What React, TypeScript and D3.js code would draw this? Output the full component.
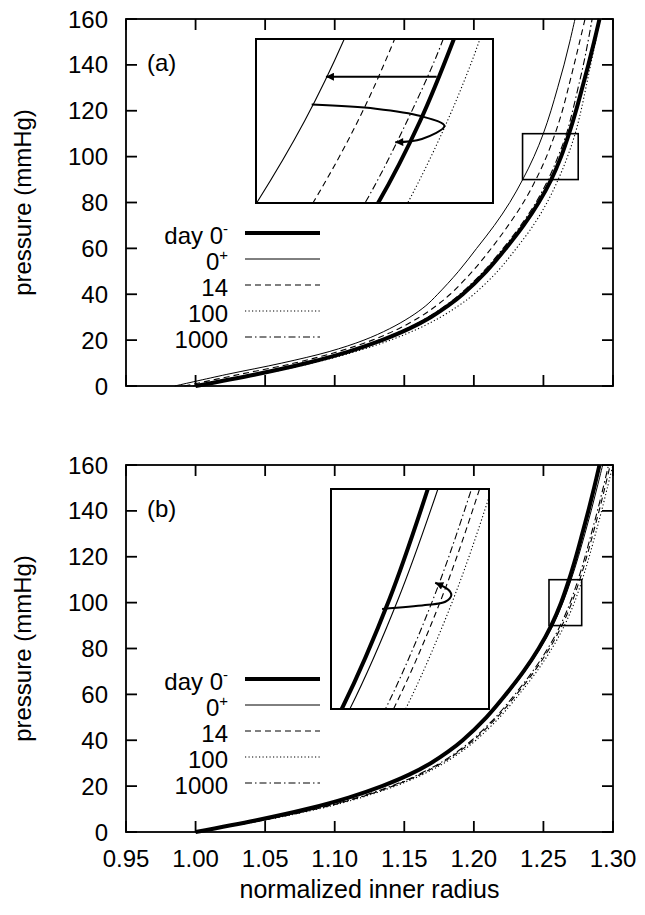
import React from 'react';
import * as d3 from 'd3';

// ---------- data ----------
const PRESSURE = [0, 5, 10, 15, 20, 25, 30, 35, 40, 50, 60, 70, 80, 90, 100, 110, 120, 130, 140, 150, 160];

// day 0- (same baseline in both panels)
const DAY0_MINUS = [1.000, 1.043, 1.080, 1.110, 1.134, 1.1535, 1.169, 1.1815, 1.192, 1.209, 1.223, 1.2357, 1.2466, 1.2556, 1.2627, 1.2684, 1.2734, 1.2779, 1.2823, 1.2864, 1.2903];

// panel (a)
const A_DAY0_PLUS = [0.985, 1.022, 1.062, 1.096, 1.121, 1.1395, 1.154, 1.1655, 1.174, 1.189, 1.202, 1.2147, 1.2258, 1.2351, 1.2432, 1.2499, 1.2554, 1.2602, 1.2648, 1.2689, 1.2727];
const A_DAY14 = [0.992, 1.031, 1.071, 1.1025, 1.127, 1.146, 1.161, 1.173, 1.183, 1.199, 1.2125, 1.2247, 1.2356, 1.2446, 1.2522, 1.2584, 1.2636, 1.2679, 1.2720, 1.2760, 1.2799];
const A_DAY100 = [1.002, 1.046, 1.084, 1.115, 1.140, 1.160, 1.176, 1.189, 1.200, 1.217, 1.2305, 1.2427, 1.2526, 1.2606, 1.2673, 1.2728, 1.2770, 1.2805, 1.2839, 1.2874, 1.2908];
const A_DAY1000 = [0.998, 1.040, 1.078, 1.108, 1.132, 1.1515, 1.167, 1.1795, 1.190, 1.207, 1.221, 1.2337, 1.2446, 1.2534, 1.2605, 1.2666, 1.2710, 1.2749, 1.2787, 1.2820, 1.2850];

// panel (b)
const B_DAY0_PLUS = [1.000, 1.044, 1.081, 1.111, 1.135, 1.1545, 1.170, 1.1825, 1.193, 1.210, 1.224, 1.2367, 1.2476, 1.2568, 1.2640, 1.2699, 1.2751, 1.2798, 1.2843, 1.2885, 1.2926];
const B_DAY14 = [1.000, 1.047, 1.0865, 1.1175, 1.1417, 1.1612, 1.1767, 1.1892, 1.1997, 1.2167, 1.2307, 1.2434, 1.2543, 1.2633, 1.2704, 1.2761, 1.2811, 1.2856, 1.2900, 1.2941, 1.2980];
const B_DAY100 = [1.000, 1.048, 1.088, 1.119, 1.1435, 1.163, 1.1785, 1.191, 1.2015, 1.2185, 1.2325, 1.2452, 1.2561, 1.2651, 1.2722, 1.2779, 1.2829, 1.2874, 1.2918, 1.2959, 1.3000];
const B_DAY1000 = [1.000, 1.0465, 1.0855, 1.1163, 1.1405, 1.160, 1.1755, 1.188, 1.1985, 1.2155, 1.2295, 1.2422, 1.2531, 1.2621, 1.2692, 1.2749, 1.2799, 1.2844, 1.2888, 1.2929, 1.2968];

const X_TICKS = [0.95, 1.00, 1.05, 1.10, 1.15, 1.20, 1.25, 1.30];
const Y_TICKS = [0, 20, 40, 60, 80, 100, 120, 140, 160];
const LEGEND_LABELS = ['day 0', '0', '14', '100', '1000'];
const LEGEND_SUPS = ['-', '+', '', '', ''];
const PANEL_LABELS = ['(a)', '(b)'];

// zoom boxes (data units): [r0, r1, p0, p1]
const A_ZOOM = [1.235, 1.275, 90, 110];
const B_ZOOM = [1.254, 1.2775, 90, 110];

// annotation arrows (data units)
const A_ARROW1 = [[1.2655, 105.4], [1.2468, 105.4]];
const A_ARROW2 = [[1.2444, 102.0], [1.2552, 101.5], [1.2628, 100.6], [1.2668, 99.4], [1.2630, 97.8], [1.2585, 97.4]];
const B_ARROW = [[1.2616, 99.1], [1.2680, 99.45], [1.2710, 99.75], [1.2719, 100.36], [1.2715, 100.82], [1.2695, 101.48]];

// ---------- layout / styles ----------
const W = 645, H = 915;
const X0 = 126, X1 = 613, PH = 367;
const TOPS = [19, 465];
const FONT = '"Liberation Sans", Arial, Helvetica, sans-serif';
const TICK = 11;

const STYLES = [
  { w: 4, dash: undefined },
  { w: 1, dash: undefined },
  { w: 1.1, dash: '6,4' },
  { w: 1.1, dash: '1.2,2.3' },
  { w: 1.1, dash: '7,3,1.5,3' },
];
const DRAW_ORDER = [1, 2, 3, 4, 0];

const xScale = d3.scaleLinear().domain([0.95, 1.30]).range([X0, X1]);

function linePath(rs: number[], xs: any, ys: any) {
  const pts: [number, number][] = rs.map((r, i) => [r, PRESSURE[i]]);
  return d3.line<[number, number]>()
    .x(d => xs(d[0]))
    .y(d => ys(d[1]))
    .curve(d3.curveCatmullRom.alpha(0.5))(pts) as string;
}

function arrowPath(pts: number[][], xs: any, ys: any) {
  return d3.line<number[]>()
    .x(d => xs(d[0]))
    .y(d => ys(d[1]))
    .curve(d3.curveCatmullRom.alpha(0.5))(pts) as string;
}

type PanelProps = {
  idx: number;
  series: number[][];
  zoom: number[];
  insetRect: number[]; // x0,y0,x1,y1
  arrows: number[][][];
  showXLabels: boolean;
};

function Panel({ idx, series, zoom, insetRect, arrows, showXLabels }: PanelProps) {
  const top = TOPS[idx];
  const bottom = top + PH;
  const yScale = d3.scaleLinear().domain([0, 160]).range([bottom, top]);
  const [ix0, iy0, ix1, iy1] = insetRect;
  const ixs = d3.scaleLinear().domain([zoom[0], zoom[1]]).range([ix0, ix1]);
  const iys = d3.scaleLinear().domain([zoom[2], zoom[3]]).range([iy1, iy0]);
  const clipId = `inset-clip-${idx}`;
  const legendY0 = top + 214;
  const legendStep = 26;

  return (
    <g>
      <defs>
        <clipPath id={clipId}>
          <rect x={ix0} y={iy0} width={ix1 - ix0} height={iy1 - iy0} />
        </clipPath>
      </defs>

      {/* main curves */}
      {DRAW_ORDER.map(k => (
        <path key={k} d={linePath(series[k], xScale, yScale)} fill="none" stroke="#000"
          strokeWidth={STYLES[k].w} strokeDasharray={STYLES[k].dash} />
      ))}

      {/* zoom box */}
      <rect x={xScale(zoom[0])} y={yScale(zoom[3])} width={xScale(zoom[1]) - xScale(zoom[0])}
        height={yScale(zoom[2]) - yScale(zoom[3])} fill="none" stroke="#000" strokeWidth={1.6} />

      {/* inset */}
      <rect x={ix0} y={iy0} width={ix1 - ix0} height={iy1 - iy0} fill="#fff" />
      <g clipPath={`url(#${clipId})`}>
        {DRAW_ORDER.map(k => (
          <path key={k} d={linePath(series[k], ixs, iys)} fill="none" stroke="#000"
            strokeWidth={k === 0 ? 4 : 1.1} strokeDasharray={STYLES[k].dash} />
        ))}
        {arrows.map((a, i) => (
          <path key={i} d={arrowPath(a, ixs, iys)} fill="none" stroke="#000" strokeWidth={2}
            markerEnd="url(#arrowhead)" />
        ))}
      </g>
      <rect x={ix0} y={iy0} width={ix1 - ix0} height={iy1 - iy0} fill="none" stroke="#000" strokeWidth={2} />

      {/* frame */}
      <rect x={X0} y={top} width={X1 - X0} height={PH} fill="none" stroke="#000" strokeWidth={1.8} />

      {/* ticks */}
      {Y_TICKS.map(t => (
        <g key={'y' + t}>
          <line x1={X0} x2={X0 + TICK} y1={yScale(t)} y2={yScale(t)} stroke="#000" strokeWidth={1.8} />
          <line x1={X1} x2={X1 - TICK} y1={yScale(t)} y2={yScale(t)} stroke="#000" strokeWidth={1.8} />
          <text x={X0 - 18} y={yScale(t) + 8.5} textAnchor="end" fontSize={24} fontFamily={FONT}>{t}</text>
        </g>
      ))}
      {X_TICKS.map(t => (
        <g key={'x' + t}>
          <line x1={xScale(t)} x2={xScale(t)} y1={bottom} y2={bottom - TICK} stroke="#000" strokeWidth={1.8} />
          <line x1={xScale(t)} x2={xScale(t)} y1={top} y2={top + TICK} stroke="#000" strokeWidth={1.8} />
          {showXLabels && (
            <text x={xScale(t)} y={bottom + 35} textAnchor="middle" fontSize={24} fontFamily={FONT}>{t.toFixed(2)}</text>
          )}
        </g>
      ))}

      {/* y title */}
      <text transform={`translate(31,${(top + bottom) / 2}) rotate(-90)`} textAnchor="middle"
        fontSize={24} fontFamily={FONT}>pressure (mmHg)</text>

      {/* panel label */}
      <text x={147} y={top + 52} fontSize={24} fontFamily={FONT}>{PANEL_LABELS[idx]}</text>

      {/* legend */}
      {LEGEND_LABELS.map((lab, i) => {
        const ly = legendY0 + i * legendStep;
        return (
          <g key={'lg' + i}>
            <text x={228} y={ly + 11} textAnchor="end" fontSize={24} fontFamily={FONT}>
              {lab}
              {LEGEND_SUPS[i] && <tspan dy={-10} fontSize={15}>{LEGEND_SUPS[i]}</tspan>}
            </text>
            <line x1={245} x2={320} y1={ly} y2={ly} stroke="#000" strokeWidth={STYLES[i].w}
              strokeDasharray={STYLES[i].dash} />
          </g>
        );
      })}
    </g>
  );
}

export default function App() {
  const seriesA = [DAY0_MINUS, A_DAY0_PLUS, A_DAY14, A_DAY100, A_DAY1000];
  const seriesB = [DAY0_MINUS, B_DAY0_PLUS, B_DAY14, B_DAY100, B_DAY1000];
  return (
    <svg width={W} height={H} style={{ position: 'absolute', left: 0, top: 0, background: '#fff' }}>
      <defs>
        <marker id="arrowhead" viewBox="0 0 10 10" refX={10} refY={5} markerUnits="userSpaceOnUse"
          markerWidth={15} markerHeight={8} orient="auto">
          <path d="M0,0 L10,5 L0,10 z" fill="#000" />
        </marker>
      </defs>
      <rect x={0} y={0} width={W} height={H} fill="#fff" />
      <Panel idx={0} series={seriesA} zoom={A_ZOOM} insetRect={[256, 39, 493, 203]}
        arrows={[A_ARROW1, A_ARROW2]} showXLabels={false} />
      <Panel idx={1} series={seriesB} zoom={B_ZOOM} insetRect={[331, 489, 489, 709]}
        arrows={[B_ARROW]} showXLabels={true} />
      <text x={(X0 + X1) / 2} y={898} textAnchor="middle" fontSize={25} fontFamily={FONT}>normalized inner radius</text>
    </svg>
  );
}
